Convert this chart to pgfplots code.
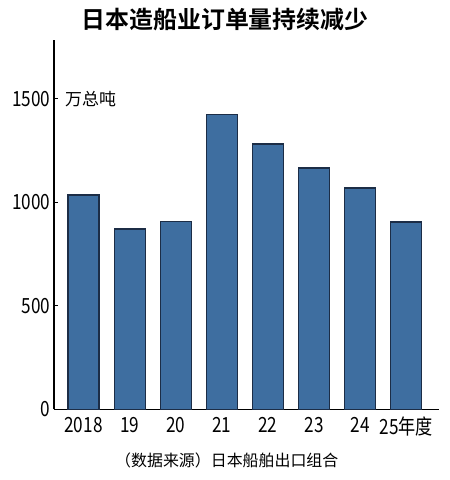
\documentclass[border=0pt]{standalone}
\usepackage{fontspec}
\usepackage{pgfplots}
\pgfplotsset{compat=1.18}
\setmainfont{Noto Sans CJK SC}[BoldFont={Noto Sans CJK SC Bold}]
\newfontfamily\numfont{Noto Sans CJK SC}[FakeStretch=0.82]
\definecolor{barfill}{RGB}{62,110,160}
\definecolor{baredge}{RGB}{28,45,70}
\begin{document}
\begin{tikzpicture}[x=1bp,y=1bp]
\path[use as bounding box] (0,0) rectangle (450,480);
\begin{axis}[
  at={(54bp,70.5bp)}, anchor=south west,
  scale only axis, width=385bp, height=369.5bp,
  xmin=-0.64, xmax=7.71, ymin=0, ymax=1785,
  axis lines*=left,
  axis line style={line width=1.1bp, black},
  ytick={0,500,1000,1500},
  xtick={0,1,2,3,4,5,6,7},
  xticklabels={2018,19,20,21,22,23,24,25年度},
  x tick style={draw=none},
  y tick style={line width=1bp, black},
  tick align=inside, major tick length=4bp,
  /pgf/number format/assume math mode=true,
  /pgf/number format/1000 sep={},
  tick label style={font=\numfont\fontsize{21}{21}\selectfont, text=black},
  ybar, bar width=31bp, bar shift=0pt,
]
\addplot[fill=barfill, draw=baredge, line width=1.2bp] coordinates {
 (0,1036) (1,872) (2,910) (3,1426) (4,1283) (5,1167) (6,1070) (7,906)
};
\end{axis}
\node[font=\bfseries\fontsize{24}{24}\selectfont] at (225,460) {日本造船业订单量持续减少};
\node[anchor=west, font=\fontsize{17}{17}\selectfont, inner sep=0] at (65,381) {万总吨};
\node[anchor=west, font=\fontsize{16}{16}\selectfont, inner sep=0] at (115,20) {（数据来源）日本船舶出口组合};
\end{tikzpicture}
\end{document}
